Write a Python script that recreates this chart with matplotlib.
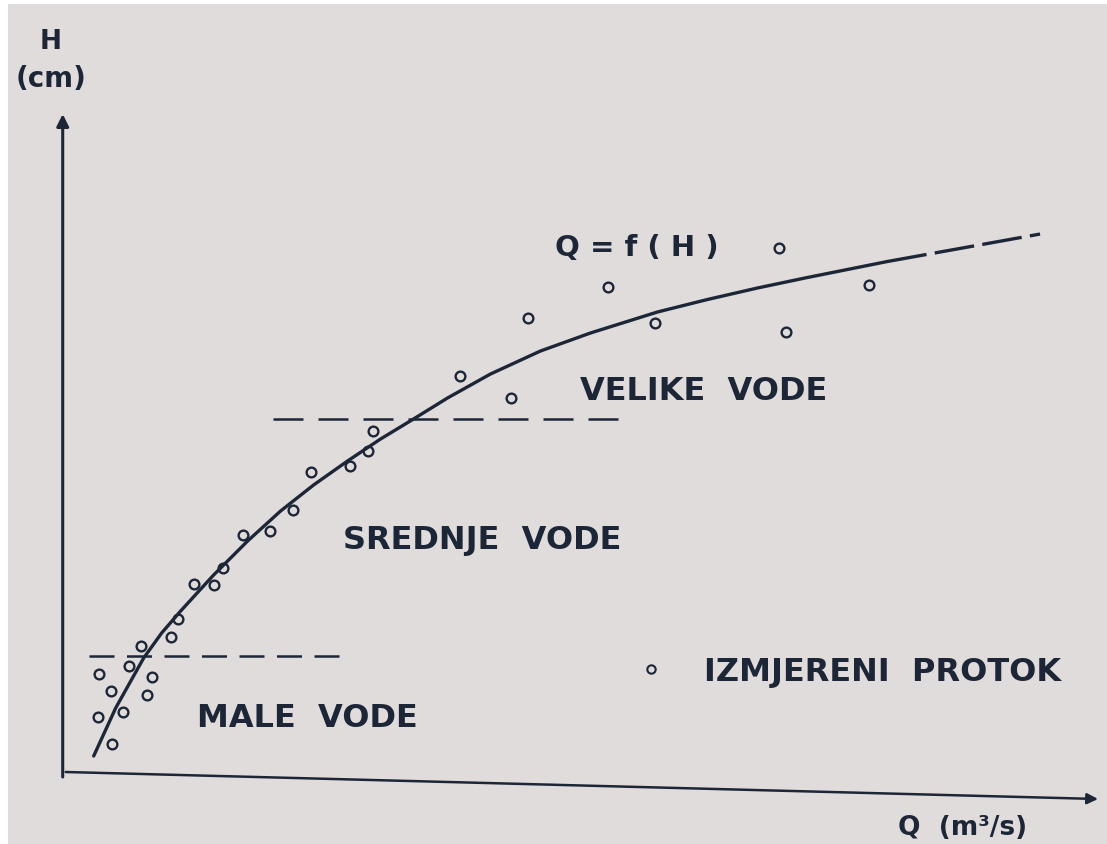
import matplotlib.pyplot as plt

q_meas = [3.6, 4.8, 6.6, 7.8, 8.9, 8.4, 6.0, 3.5, 4.9, 10.8, 11.5,
          13.1, 15.1, 16.0, 18.0, 20.7, 23.0, 24.8, 28.7, 30.5, 31.1,
          39.8, 44.9, 46.6, 54.6, 59.3, 71.7, 72.4, 80.7]
h_meas = [9.8, 8.1, 10.6, 12.6, 9.5, 7.7, 6.0, 5.5, 2.8, 13.5, 15.3,
          18.8, 18.7, 20.4, 23.7, 24.1, 26.2, 30.0, 30.6, 32.1, 34.1,
          39.6, 37.4, 45.4, 48.5, 44.9, 52.4, 44.0, 48.7]

# rating curve Q = f(H)
q_curve = [3.1, 4.2, 5.3, 6.7, 8.1, 9.9, 11.8, 15.1, 18.5, 21.8, 25.1,
           28.5, 31.8, 35.1, 38.5, 42.8, 47.8, 52.8, 59.5, 64.5, 69.5,
           74.5, 79.5, 82.5]
h_curve = [1.6, 4.0, 6.4, 8.9, 11.4, 13.9, 16.1, 19.7, 23.1, 26.1, 28.7,
           31.1, 33.3, 35.3, 37.4, 39.8, 42.1, 43.9, 46.0, 47.25, 48.4,
           49.45, 50.45, 51.05]
# extrapolated part (dashed)
q_extra = [82.5, 97.8]
h_extra = [51.05, 53.8]

# zone limits
low_limit = 11.6
mid_limit = 35.3

ink = '#1d2637'
bg = '#e1dcdc'

fig = plt.figure(figsize=(11.07, 8.45), dpi=100)
fig.patch.set_facecolor('white')
ax = fig.add_axes([0.007, 0, 0.993, 0.994])
ax.set_facecolor(bg)
ax.set_xlim(-5.5, 104.5)
ax.set_ylim(-7.2, 76.8)
for s in ax.spines.values():
    s.set_visible(False)
ax.set_xticks([])
ax.set_yticks([])

# axes arrows
ax.annotate('', xy=(0, 65.8), xytext=(0, -0.5),
            arrowprops=dict(arrowstyle='-|>', color=ink, lw=2.2,
                            mutation_scale=18, shrinkA=0, shrinkB=0))
ax.annotate('', xy=(103.6, -2.7), xytext=(0.3, 0),
            arrowprops=dict(arrowstyle='-|>', color=ink, lw=1.8,
                            mutation_scale=16, shrinkA=0, shrinkB=0))

# zone boundaries
ax.plot([2.6, 27.8], [low_limit, low_limit], color=ink, lw=1.8,
        dashes=(10, 5))
ax.plot([21.0, 57.0], [mid_limit, mid_limit], color=ink, lw=1.8,
        dashes=(12, 6))

# curve
ax.plot(q_curve, h_curve, color=ink, lw=2.4, solid_capstyle='round',
        solid_joinstyle='round')
ax.plot(q_extra, h_extra, color=ink, lw=2.4, dashes=(12, 2.5))

# measured points
ax.plot(q_meas, h_meas, 'o', ms=7, mfc='none', mec=ink, mew=1.7)

tkw = dict(color=ink, fontweight='bold', family='DejaVu Sans',
           ha='center', va='center')
ax.text(-1.2, 73.1, 'H', fontsize=19, **tkw)
ax.text(-1.2, 69.4, '(cm)', fontsize=20, **tkw)
ax.text(90.0, -5.5, 'Q  (m³/s)', fontsize=19, **tkw)
ax.text(57.4, 52.5, 'Q = f ( H )', fontsize=21, **tkw)
ax.text(64.1, 38.2, 'VELIKE  VODE', fontsize=23, **tkw)
ax.text(42.0, 23.3, 'SREDNJE  VODE', fontsize=23, **tkw)
ax.text(24.5, 5.5, 'MALE  VODE', fontsize=23, **tkw)
ax.plot([58.9], [10.3], 'o', ms=6, mfc='none', mec=ink, mew=1.5)
ax.text(82.0, 10.1, 'IZMJERENI  PROTOK', fontsize=23, **tkw)

fig.savefig('out.png', dpi=100, facecolor=fig.get_facecolor())
